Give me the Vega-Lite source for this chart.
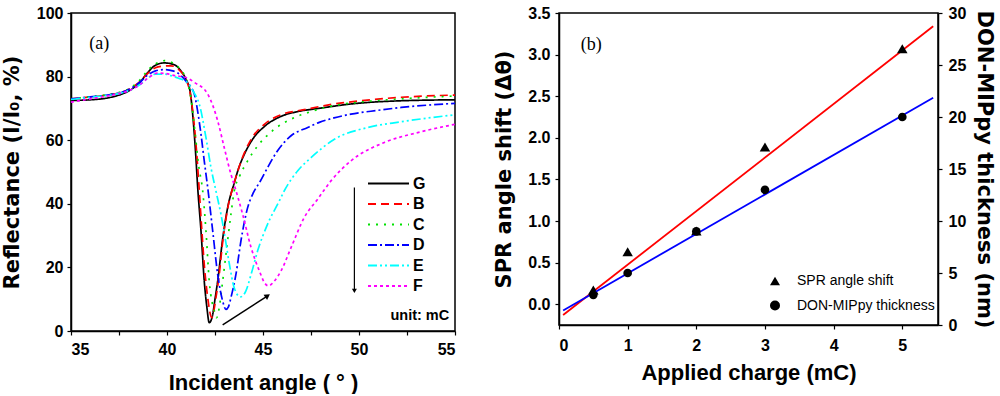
{
"$schema": "https://vega.github.io/schema/vega-lite/v6.json",
"padding": {"left": 0, "top": 4, "right": 0, "bottom": 0},
"spacing": 32,
"config": {
  "view": {"stroke": "black", "strokeWidth": 1.5},
  "axis": {"grid": false, "domainColor": "black", "domainWidth": 1.5, "tickColor": "black", "tickWidth": 1.2, "tickSize": 4,
    "labelFont": "Liberation Sans", "labelFontWeight": "bold", "labelFontSize": 16, "labelColor": "black",
    "titleFont": "Liberation Sans", "titleFontWeight": "bold", "titleColor": "black", "labelOverlap": false}
},
"resolve": {"scale": {"color": "independent", "strokeDash": "independent", "shape": "independent"}},
"datasets": {
  "curves": [
{"s":"G","a":35,"r":72.5},{"s":"G","a":36,"r":72.7},{"s":"G","a":37,"r":73.4},{"s":"G","a":37.6,"r":74.4},{"s":"G","a":38.1,"r":75.8},{"s":"G","a":38.6,"r":78.3},{"s":"G","a":39,"r":81.3},{"s":"G","a":39.35,"r":83.4},{"s":"G","a":39.85,"r":84.3},{"s":"G","a":40.35,"r":83.8},{"s":"G","a":40.7,"r":82},{"s":"G","a":41,"r":79},{"s":"G","a":41.2,"r":75.5},{"s":"G","a":41.34,"r":68},{"s":"G","a":41.5,"r":55},{"s":"G","a":41.6,"r":45},{"s":"G","a":41.77,"r":31.5},{"s":"G","a":41.94,"r":15.7},{"s":"G","a":42.08,"r":7.3},{"s":"G","a":42.2,"r":2.6},{"s":"G","a":42.38,"r":5.2},{"s":"G","a":42.5,"r":10},{"s":"G","a":42.64,"r":15.7},{"s":"G","a":42.9,"r":29},{"s":"G","a":43.16,"r":38.8},{"s":"G","a":43.5,"r":46.5},{"s":"G","a":43.75,"r":51.5},{"s":"G","a":44.03,"r":55.6},{"s":"G","a":44.46,"r":60.3},{"s":"G","a":45.07,"r":64.3},{"s":"G","a":45.94,"r":67.5},{"s":"G","a":46.81,"r":69},{"s":"G","a":47.9,"r":70},{"s":"G","a":49.6,"r":71.4},{"s":"G","a":52.2,"r":72.4},{"s":"G","a":55,"r":72.7},
{"s":"B","a":35,"r":73},{"s":"B","a":36,"r":73.6},{"s":"B","a":37,"r":74.3},{"s":"B","a":37.6,"r":75},{"s":"B","a":38.1,"r":76.3},{"s":"B","a":38.6,"r":78.5},{"s":"B","a":39,"r":81},{"s":"B","a":39.4,"r":82.8},{"s":"B","a":39.8,"r":83.3},{"s":"B","a":40.2,"r":83.4},{"s":"B","a":40.6,"r":82.3},{"s":"B","a":40.95,"r":79.5},{"s":"B","a":41.2,"r":75},{"s":"B","a":41.34,"r":69.2},{"s":"B","a":41.51,"r":58.8},{"s":"B","a":41.65,"r":47},{"s":"B","a":41.8,"r":33},{"s":"B","a":41.94,"r":21},{"s":"B","a":42.12,"r":10.5},{"s":"B","a":42.33,"r":4.2},{"s":"B","a":42.55,"r":10.5},{"s":"B","a":42.72,"r":17.8},{"s":"B","a":42.9,"r":28},{"s":"B","a":43.16,"r":38.5},{"s":"B","a":43.5,"r":46.5},{"s":"B","a":43.75,"r":51.5},{"s":"B","a":44.03,"r":56},{"s":"B","a":44.46,"r":61},{"s":"B","a":45.07,"r":65},{"s":"B","a":45.94,"r":68},{"s":"B","a":47.15,"r":69.6},{"s":"B","a":48.72,"r":71.4},{"s":"B","a":50.1,"r":72.4},{"s":"B","a":52.2,"r":73.5},{"s":"B","a":55,"r":74.2},
{"s":"C","a":35,"r":73},{"s":"C","a":36,"r":73.7},{"s":"C","a":37,"r":74.4},{"s":"C","a":37.6,"r":75.2},{"s":"C","a":38.1,"r":76.5},{"s":"C","a":38.6,"r":79},{"s":"C","a":39,"r":82},{"s":"C","a":39.4,"r":84},{"s":"C","a":39.86,"r":85},{"s":"C","a":40.3,"r":84.3},{"s":"C","a":40.7,"r":82.2},{"s":"C","a":41,"r":79.2},{"s":"C","a":41.25,"r":73},{"s":"C","a":41.45,"r":63},{"s":"C","a":41.65,"r":52},{"s":"C","a":41.86,"r":44},{"s":"C","a":42.03,"r":31.5},{"s":"C","a":42.2,"r":15.7},{"s":"C","a":42.35,"r":9},{"s":"C","a":42.47,"r":6.3},{"s":"C","a":42.58,"r":4.2},{"s":"C","a":42.72,"r":7.3},{"s":"C","a":42.9,"r":15.7},{"s":"C","a":43.07,"r":24.1},{"s":"C","a":43.33,"r":36.7},{"s":"C","a":43.5,"r":44},{"s":"C","a":43.77,"r":48.5},{"s":"C","a":44.2,"r":53.5},{"s":"C","a":44.72,"r":58.2},{"s":"C","a":45.5,"r":63},{"s":"C","a":46.63,"r":67.1},{"s":"C","a":47.5,"r":69},{"s":"C","a":48.7,"r":70.9},{"s":"C","a":50.1,"r":72},{"s":"C","a":52.2,"r":73},{"s":"C","a":55,"r":73.9},
{"s":"D","a":35,"r":73},{"s":"D","a":36,"r":73.6},{"s":"D","a":37,"r":74.3},{"s":"D","a":37.6,"r":75},{"s":"D","a":38.1,"r":76.2},{"s":"D","a":38.6,"r":78.3},{"s":"D","a":39,"r":80.5},{"s":"D","a":39.4,"r":81.8},{"s":"D","a":39.86,"r":82.2},{"s":"D","a":40.3,"r":81.8},{"s":"D","a":40.7,"r":80.5},{"s":"D","a":41,"r":78.5},{"s":"D","a":41.42,"r":74.5},{"s":"D","a":41.6,"r":69},{"s":"D","a":41.77,"r":61.9},{"s":"D","a":41.94,"r":53.5},{"s":"D","a":42.12,"r":45.1},{"s":"D","a":42.38,"r":31.5},{"s":"D","a":42.64,"r":17.8},{"s":"D","a":42.9,"r":9.4},{"s":"D","a":43.07,"r":6.8},{"s":"D","a":43.2,"r":7.6},{"s":"D","a":43.33,"r":10.5},{"s":"D","a":43.59,"r":17.8},{"s":"D","a":43.85,"r":28.3},{"s":"D","a":44.2,"r":38.8},{"s":"D","a":44.5,"r":43.5},{"s":"D","a":44.85,"r":47},{"s":"D","a":45.24,"r":51.4},{"s":"D","a":45.76,"r":56.7},{"s":"D","a":46.46,"r":61.4},{"s":"D","a":47.33,"r":64},{"s":"D","a":47.93,"r":65.6},{"s":"D","a":48.7,"r":67},{"s":"D","a":49.58,"r":68.2},{"s":"D","a":51,"r":69.4},{"s":"D","a":52.2,"r":70.3},{"s":"D","a":53.5,"r":71},{"s":"D","a":55,"r":71.6},
{"s":"E","a":35,"r":72.8},{"s":"E","a":36,"r":73.5},{"s":"E","a":37,"r":74.2},{"s":"E","a":37.6,"r":74.8},{"s":"E","a":38.1,"r":75.8},{"s":"E","a":38.6,"r":77.5},{"s":"E","a":39,"r":79.5},{"s":"E","a":39.4,"r":80.8},{"s":"E","a":39.9,"r":80.8},{"s":"E","a":40.2,"r":80.3},{"s":"E","a":40.6,"r":79.5},{"s":"E","a":41.08,"r":78},{"s":"E","a":41.4,"r":75},{"s":"E","a":41.68,"r":71.4},{"s":"E","a":42.03,"r":60.8},{"s":"E","a":42.29,"r":51.4},{"s":"E","a":42.55,"r":44},{"s":"E","a":42.81,"r":36.7},{"s":"E","a":42.98,"r":31},{"s":"E","a":43.25,"r":21},{"s":"E","a":43.5,"r":13.6},{"s":"E","a":43.82,"r":10.7},{"s":"E","a":44.11,"r":12.6},{"s":"E","a":44.38,"r":17.8},{"s":"E","a":44.72,"r":25.2},{"s":"E","a":45.24,"r":33.6},{"s":"E","a":45.85,"r":40.9},{"s":"E","a":46.11,"r":44.1},{"s":"E","a":46.81,"r":50.4},{"s":"E","a":47.5,"r":54.5},{"s":"E","a":48.72,"r":60.3},{"s":"E","a":50.45,"r":64},{"s":"E","a":52.2,"r":65.8},{"s":"E","a":55,"r":68},
{"s":"F","a":35,"r":72},{"s":"F","a":36,"r":73},{"s":"F","a":37,"r":74},{"s":"F","a":37.6,"r":74.8},{"s":"F","a":38.1,"r":75.8},{"s":"F","a":38.6,"r":77.5},{"s":"F","a":39,"r":79.5},{"s":"F","a":39.5,"r":81.1},{"s":"F","a":39.9,"r":81},{"s":"F","a":40.4,"r":80.3},{"s":"F","a":41,"r":79.7},{"s":"F","a":41.42,"r":78.2},{"s":"F","a":42.12,"r":74.5},{"s":"F","a":42.64,"r":66.1},{"s":"F","a":42.98,"r":57.7},{"s":"F","a":43.33,"r":49.3},{"s":"F","a":43.55,"r":45},{"s":"F","a":43.94,"r":36.7},{"s":"F","a":44.38,"r":26.2},{"s":"F","a":44.81,"r":18.9},{"s":"F","a":45.1,"r":15},{"s":"F","a":45.28,"r":14.2},{"s":"F","a":45.59,"r":15.7},{"s":"F","a":45.94,"r":18.9},{"s":"F","a":46.46,"r":26.2},{"s":"F","a":47.15,"r":35.7},{"s":"F","a":47.85,"r":41.5},{"s":"F","a":48.54,"r":47.2},{"s":"F","a":49.58,"r":53.5},{"s":"F","a":51.32,"r":59.3},{"s":"F","a":53.06,"r":62.4},{"s":"F","a":55,"r":65}
  ],
  "spr": [{"q":0.5,"v":0.17,"series":"SPR angle shift"},{"q":1,"v":0.63,"series":"SPR angle shift"},{"q":2,"v":0.88,"series":"SPR angle shift"},{"q":3,"v":1.89,"series":"SPR angle shift"},{"q":5,"v":3.07,"series":"SPR angle shift"}],
  "thk": [{"q":0.5,"v":2.9,"series":"DON-MIPpy thickness"},{"q":1,"v":5,"series":"DON-MIPpy thickness"},{"q":2,"v":9,"series":"DON-MIPpy thickness"},{"q":3,"v":13,"series":"DON-MIPpy thickness"},{"q":5,"v":20,"series":"DON-MIPpy thickness"}],
  "fitA": [{"q":0.06,"v":-0.13},{"q":5.45,"v":3.34}],
  "fitB": [{"q":0.06,"v":1.4},{"q":5.45,"v":21.85}]
},
"hconcat": [
{
  "width": 384, "height": 318,
  "layer": [
    {
      "data": {"name": "curves"},
      "mark": {"type": "line", "interpolate": "monotone", "strokeWidth": 1.7},
      "encoding": {
        "x": {"field": "a", "type": "quantitative", "scale": {"domain": [35, 55], "nice": false, "zero": false},
          "axis": {"title": "Incident angle ( ° )", "titleFontSize": 22, "values": [35,37.5,40,42.5,45,47.5,50,52.5,55],
            "labelExpr": "datum.value % 5 === 0 ? datum.label : ''", "labelPadding": 6, "minExtent": 26, "maxExtent": 26, "titlePadding": 15}},
        "y": {"field": "r", "type": "quantitative", "scale": {"domain": [0, 100], "nice": false},
          "axis": {"title": "Reflectance (I/I₀, %)", "titleFont": "DejaVu Sans", "titleFontSize": 21, "values": [0,10,20,30,40,50,60,70,80,90,100],
            "labelExpr": "datum.value % 20 === 0 ? datum.label : ''", "labelPadding": 4, "minExtent": 40, "maxExtent": 40, "titlePadding": 9}},
        "color": {"field": "s", "type": "nominal", "scale": {"domain": ["G","B","C","D","E","F"], "range": ["#000000","#ff0000","#00e000","#0000ff","#00ffff","#ff00ff"]},
          "legend": {"title": null, "orient": "none", "legendX": 306, "legendY": 159, "symbolType": "M-2,0H2", "symbolSize": 420, "symbolStrokeWidth": 1.8,
            "labelFont": "Liberation Sans", "labelFontWeight": "bold", "labelFontSize": 16, "labelColor": "black", "rowPadding": 0.5, "labelOffset": 13}},
        "strokeDash": {"field": "s", "type": "nominal", "scale": {"domain": ["G","B","C","D","E","F"], "range": [[1,0],[8,5],[2,6],[9,3,2,3],[9,3,2,3,2,3],[3,3]]},
          "legend": {"title": null, "orient": "none", "legendX": 306, "legendY": 159, "symbolType": "M-2,0H2", "symbolSize": 420, "symbolStrokeWidth": 1.8,
            "labelFont": "Liberation Sans", "labelFontWeight": "bold", "labelFontSize": 16, "labelColor": "black", "rowPadding": 0.5, "labelOffset": 13}}
      }
    },
    {
      "data": {"values": [{"t": "(a)"}]},
      "mark": {"type": "text", "font": "Liberation Serif", "fontSize": 18, "align": "center", "baseline": "middle"},
      "encoding": {"x": {"datum": 36.47}, "y": {"datum": 90.2}, "text": {"field": "t"}}
    },
    {
      "data": {"values": [{"t": "unit: mC"}]},
      "mark": {"type": "text", "font": "Liberation Sans", "fontWeight": "bold", "fontSize": 14.5, "align": "right", "baseline": "middle"},
      "encoding": {"x": {"datum": 54.7}, "y": {"datum": 4.6}, "text": {"field": "t"}}
    },
    {
      "data": {"values": [{"t": "arrow"}]},
      "mark": {"type": "rule", "color": "black", "strokeWidth": 1.5},
      "encoding": {"x": {"datum": 42.9}, "y": {"datum": 1.9}, "x2": {"datum": 45.2}, "y2": {"datum": 10.9}}
    },
    {
      "data": {"values": [{"t": "arrow"}]},
      "mark": {"type": "point", "shape": "triangle", "angle": 56, "filled": true, "color": "black", "size": 40, "opacity": 1},
      "encoding": {"x": {"datum": 45.2}, "y": {"datum": 10.9}}
    },
    {
      "data": {"values": [{"t": "arrow"}]},
      "mark": {"type": "rule", "color": "black", "strokeWidth": 1.2},
      "encoding": {"x": {"datum": 49.76}, "y": {"datum": 45.1}, "y2": {"datum": 12.5}}
    },
    {
      "data": {"values": [{"t": "arrow"}]},
      "mark": {"type": "point", "shape": "triangle-down", "filled": true, "color": "black", "size": 25, "opacity": 1},
      "encoding": {"x": {"datum": 49.76}, "y": {"datum": 12.6}}
    }
  ]
},
{
  "width": 379, "height": 312,
  "layer": [
    {
      "layer": [
        {
          "data": {"name": "fitA"},
          "mark": {"type": "line", "color": "#ff0000", "strokeWidth": 1.8},
          "encoding": {
            "x": {"field": "q", "type": "quantitative", "scale": {"domain": [0, 5.52], "nice": false, "zero": false},
              "axis": {"title": "Applied charge (mC)", "titleFontSize": 22, "values": [0,0.5,1,1.5,2,2.5,3,3.5,4,4.5,5,5.5],
                "labelExpr": "datum.value % 1 === 0 ? format(datum.value, 'd') : ''", "labelPadding": 8, "minExtent": 28, "maxExtent": 28, "titlePadding": 9}},
            "y": {"field": "v", "type": "quantitative", "scale": {"domain": [-0.25, 3.5], "nice": false, "zero": false},
              "axis": {"title": "SPR angle shift (Δθ)", "titleFont": "DejaVu Sans", "titleFontSize": 21, "orient": "left", "values": [0,0.25,0.5,0.75,1,1.25,1.5,1.75,2,2.25,2.5,2.75,3,3.25,3.5],
                "labelExpr": "(datum.value * 2) % 1 === 0 ? format(datum.value, '.1f') : ''", "labelPadding": 5, "minExtent": 36, "maxExtent": 36, "titlePadding": 9}}
          }
        },
        {
          "data": {"name": "spr"},
          "mark": {"type": "point", "filled": true, "color": "black", "size": 110, "opacity": 1},
          "encoding": {
            "x": {"field": "q", "type": "quantitative"},
            "y": {"field": "v", "type": "quantitative"},
            "shape": {"field": "series", "type": "nominal", "scale": {"domain": ["SPR angle shift", "DON-MIPpy thickness"], "range": ["triangle-up", "circle"]},
              "legend": {"title": null, "orient": "none", "legendX": 209, "legendY": 261, "symbolSize": 100, "symbolFillColor": "black", "symbolStrokeColor": "black",
                "labelFont": "Liberation Sans", "labelFontSize": 14, "labelColor": "black", "labelOffset": 15, "rowPadding": 8.5}}
          }
        },
        {
          "data": {"values": [{"t": "(b)"}]},
          "mark": {"type": "text", "font": "Liberation Serif", "fontSize": 18, "align": "center", "baseline": "middle"},
          "encoding": {"x": {"datum": 0.47}, "y": {"datum": 3.12}, "text": {"field": "t"}}
        }
      ]
    },
    {
      "layer": [
        {
          "data": {"name": "fitB"},
          "mark": {"type": "line", "color": "#0000ff", "strokeWidth": 1.8},
          "encoding": {
            "x": {"field": "q", "type": "quantitative"},
            "y": {"field": "v", "type": "quantitative", "scale": {"domain": [0, 30], "nice": false},
              "axis": {"title": "DON-MIPpy thickness (nm)", "titleFont": "DejaVu Sans", "titleFontSize": 21, "orient": "right", "values": [0,2.5,5,7.5,10,12.5,15,17.5,20,22.5,25,27.5,30],
                "labelExpr": "datum.value % 5 === 0 ? datum.label : ''", "labelPadding": 6, "minExtent": 28, "maxExtent": 28, "titlePadding": 7}}
          }
        },
        {
          "data": {"name": "thk"},
          "mark": {"type": "point", "filled": true, "color": "black", "size": 75, "opacity": 1},
          "encoding": {
            "x": {"field": "q", "type": "quantitative"},
            "y": {"field": "v", "type": "quantitative"},
            "shape": {"field": "series", "type": "nominal"}
          }
        }
      ]
    }
  ],
  "resolve": {"scale": {"y": "independent"}}
}
]
}
